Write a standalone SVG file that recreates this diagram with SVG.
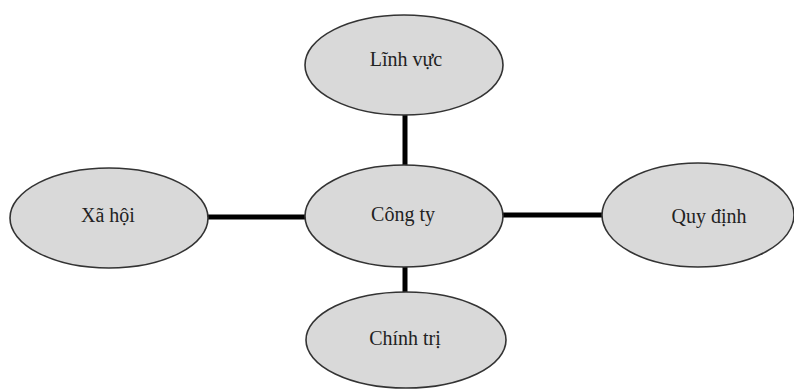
<svg xmlns="http://www.w3.org/2000/svg" width="794" height="392" viewBox="0 0 794 392">
<style>
.node ellipse{fill:#d9d9d9;stroke:#333;stroke-width:1.6}
.node text{font-family:"Liberation Serif","Times New Roman",serif;font-size:20px;fill:#222;text-anchor:middle}
.conn line{stroke:#000;stroke-width:5}
</style>
<rect width="794" height="392" fill="#fff"/>
<g id="connectors" class="conn">
<line x1="405" y1="115" x2="405" y2="166"/>
<line x1="208" y1="217" x2="306" y2="217"/>
<line x1="502" y1="215" x2="603" y2="215"/>
<line x1="405" y1="266" x2="405" y2="293"/>
</g>
<g id="linh-vuc" class="node"><ellipse cx="404" cy="65" rx="99" ry="50"/><text x="406" y="66">Lĩnh vực</text></g>
<g id="xa-hoi" class="node"><ellipse cx="109" cy="218" rx="99" ry="50"/><text x="108" y="222">Xã hội</text></g>
<g id="cong-ty" class="node"><ellipse cx="404" cy="216" rx="99" ry="51"/><text x="403" y="221">Công ty</text></g>
<g id="quy-dinh" class="node"><ellipse cx="698" cy="215" rx="96" ry="52"/><text x="709" y="223">Quy định</text></g>
<g id="chinh-tri" class="node"><ellipse cx="406" cy="340" rx="100" ry="48"/><text x="405" y="345">Chính trị</text></g>
</svg>
